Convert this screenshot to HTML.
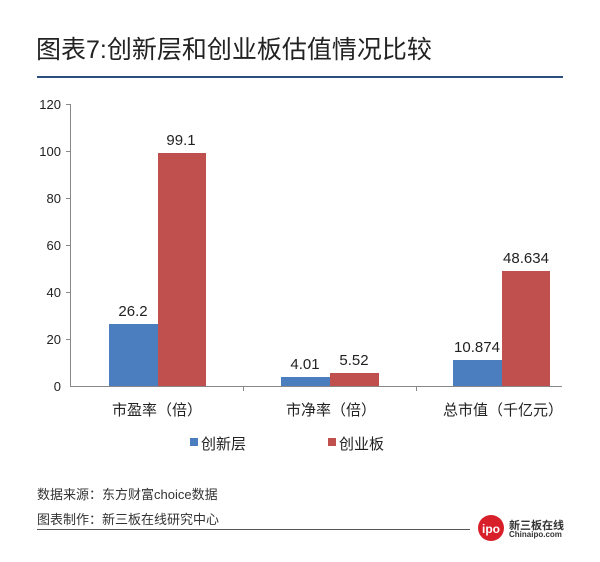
<!DOCTYPE html>
<html><head><meta charset="utf-8"><style>
body{margin:0;background:#fff;}
.w{position:relative;width:600px;height:562px;overflow:hidden;font-family:"Liberation Sans","Noto Sans CJK SC",sans-serif;color:#222;}
.t{position:absolute;}
</style></head><body><div class="w">
<div class="t" style="left:36px;top:30px;font-size:25px;color:#222;">图表7:创新层和创业板估值情况比较</div>
<div class="t" style="left:37px;top:76px;width:526px;height:2px;background:#2a4f7c;"></div>
<svg class="t" style="left:0;top:0" width="600" height="562">
<g font-size="13" fill="#222" text-anchor="end">
<text x="61" y="109">120</text><text x="61" y="156">100</text><text x="61" y="203">80</text>
<text x="61" y="250">60</text><text x="61" y="297">40</text><text x="61" y="344">20</text><text x="61" y="391">0</text>
</g>
<g stroke="#888" stroke-width="1">
<line x1="70.5" y1="104" x2="70.5" y2="386"/>
<line x1="70" y1="386.5" x2="562" y2="386.5"/>
<line x1="66" y1="104.5" x2="70" y2="104.5"/><line x1="66" y1="151.5" x2="70" y2="151.5"/><line x1="66" y1="198.5" x2="70" y2="198.5"/>
<line x1="66" y1="245.5" x2="70" y2="245.5"/><line x1="66" y1="292.5" x2="70" y2="292.5"/><line x1="66" y1="339.5" x2="70" y2="339.5"/>
<line x1="243.5" y1="386" x2="243.5" y2="391"/><line x1="416.5" y1="386" x2="416.5" y2="391"/>
</g>
<rect x="109" y="324" width="49" height="62" fill="#4a7ebf"/>
<rect x="158" y="153" width="48" height="233" fill="#c0504d"/>
<rect x="281" y="377" width="49" height="9" fill="#4a7ebf"/>
<rect x="330" y="373" width="49" height="13" fill="#c0504d"/>
<rect x="453" y="360" width="49" height="26" fill="#4a7ebf"/>
<rect x="502" y="271" width="48" height="115" fill="#c0504d"/>
<g font-size="15" fill="#222" text-anchor="middle">
<text x="133" y="316">26.2</text><text x="181" y="145">99.1</text>
<text x="305" y="369">4.01</text><text x="354" y="365">5.52</text>
<text x="477" y="352">10.874</text><text x="526" y="263">48.634</text>
</g>
</svg>
<div class="t" style="left:112px;top:399px;font-size:15px;">市盈率（倍）</div>
<div class="t" style="left:286px;top:399px;font-size:15px;">市净率（倍）</div>
<div class="t" style="left:443px;top:399px;font-size:15px;">总市值（千亿元）</div>
<div class="t" style="left:190px;top:438px;width:8px;height:8px;background:#4a7ebf;"></div>
<div class="t" style="left:201px;top:433px;font-size:15px;">创新层</div>
<div class="t" style="left:328px;top:438px;width:8px;height:8px;background:#c0504d;"></div>
<div class="t" style="left:339px;top:433px;font-size:15px;">创业板</div>
<div class="t" style="left:37px;top:484px;font-size:13px;color:#333;">数据来源：东方财富choice数据</div>
<div class="t" style="left:37px;top:509px;font-size:13px;color:#333;">图表制作：新三板在线研究中心</div>
<div class="t" style="left:37px;top:529px;width:433px;height:1px;background:#555;"></div>
<div class="t" style="left:478px;top:515px;width:26px;height:26px;border-radius:50%;background:#d7202a;color:#fff;font-size:12px;font-weight:bold;text-align:center;line-height:29px;">ipo</div>
<div class="t" style="left:509px;top:517px;font-size:11px;font-weight:bold;color:#333;">新三板在线</div>
<div class="t" style="left:509px;top:530px;font-size:8px;font-weight:bold;color:#333;">Chinaipo.com</div>
</div></body></html>
